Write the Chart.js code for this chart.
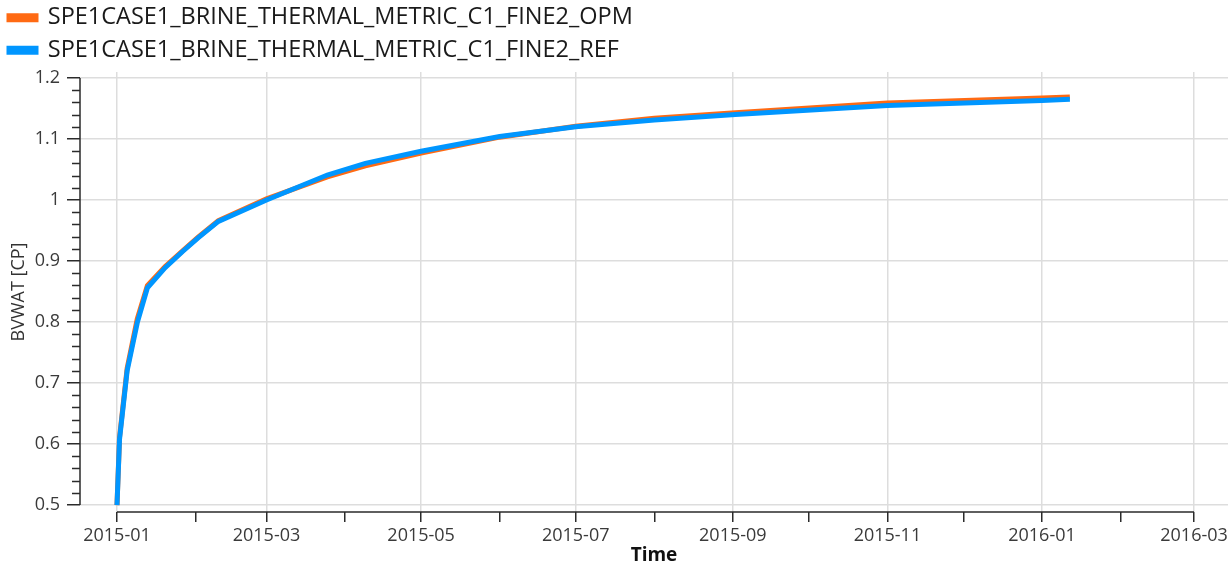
<!DOCTYPE html>
<html>
<head>
<meta charset="utf-8">
<script src="https://cdn.jsdelivr.net/npm/chart.js@4/dist/chart.umd.min.js"></script>
<style>
  html, body { margin: 0; padding: 0; background: #fff; }
  #wrap { width: 1232px; height: 565px; }
</style>
</head>
<body>
<div id="wrap"><canvas id="chart" width="1232" height="565"></canvas></div>
<script>
// BVWAT over time, OPM run vs reference run
const dates = [
  '2015-01-01', '2015-01-02', '2015-01-05', '2015-01-09', '2015-01-13', '2015-01-20',
  '2015-01-27', '2015-02-02', '2015-02-10', '2015-03-01', '2015-03-25', '2015-04-09',
  '2015-05-01', '2015-06-01', '2015-07-01', '2015-08-01', '2015-09-02', '2015-11-01',
  '2016-01-01', '2016-01-12',
];
const opmValues = [
  0.500, 0.611, 0.724, 0.805, 0.860, 0.891,
  0.917, 0.939, 0.966, 1.002, 1.038, 1.056,
  1.077, 1.103, 1.121, 1.134, 1.143, 1.159,
  1.167, 1.169,
];
const refValues = [
  0.500, 0.608, 0.720, 0.799, 0.856, 0.889,
  0.916, 0.938, 0.965, 1.000, 1.041, 1.060,
  1.080, 1.104, 1.120, 1.131, 1.140, 1.155,
  1.163, 1.165,
];
const seriesNames = ['SPE1CASE1_BRINE_THERMAL_METRIC_C1_FINE2_OPM', 'SPE1CASE1_BRINE_THERMAL_METRIC_C1_FINE2_REF'];

// month ticks on the time axis, every second one labelled
const xTickDates = [
  '2015-01-01', '2015-02-01', '2015-03-01', '2015-04-01', '2015-05-01', '2015-06-01',
  '2015-07-01', '2015-08-01', '2015-09-01', '2015-10-01', '2015-11-01', '2015-12-01',
  '2016-01-01', '2016-02-01', '2016-03-01',
];
const xTickLabels = [
  '2015-01', '', '2015-03', '', '2015-05', '', '2015-07', '', '2015-09', '', '2015-11', '',
  '2016-01', '', '2016-03',
];
const yTicks = [0.5, 0.6, 0.7, 0.8, 0.9, 1.0, 1.1, 1.2];
const yTickLabels = ['0.5', '0.6', '0.7', '0.8', '0.9', '1', '1.1', '1.2'];

const FONT = "'Open Sans', 'Noto Sans', sans-serif";
const ORANGE = '#ff6a13';
const BLUE = '#0096ff';
const GRID = '#dddddd';
const AXIS = '#2b2b2b';

const DAY = 86400000;
const T0 = Date.UTC(2015, 0, 1);
function toDay(s) {
  const [y, m, d] = s.split('-').map(Number);
  return (Date.UTC(y, m - 1, d) - T0) / DAY;
}

const xTicks = xTickDates.map(toDay);

// axis lines only span the tick range, plus short minor ticks on y
const axisLines = {
  id: 'axisLines',
  afterDraw(chart) {
    const { ctx, chartArea, scales } = chart;
    const x = scales.x, y = scales.y;
    ctx.save();
    ctx.strokeStyle = AXIS;
    ctx.lineWidth = 1.5;
    ctx.beginPath();
    ctx.moveTo(chartArea.left, y.getPixelForValue(yTicks[0]));
    ctx.lineTo(chartArea.left, y.getPixelForValue(yTicks[yTicks.length - 1]));
    ctx.moveTo(x.getPixelForValue(xTicks[0]), chartArea.bottom);
    ctx.lineTo(x.getPixelForValue(xTicks[xTicks.length - 1]), chartArea.bottom);
    for (let i = 0; i < yTicks.length - 1; i++) {
      for (let k = 1; k < 5; k++) {
        const py = Math.round(y.getPixelForValue(yTicks[i] + (yTicks[i + 1] - yTicks[i]) * k / 5)) + 0.5;
        ctx.moveTo(chartArea.left - 8, py);
        ctx.lineTo(chartArea.left, py);
      }
    }
    ctx.stroke();
    ctx.restore();
  },
};

const toPoints = vals => dates.map((d, i) => ({ x: toDay(d), y: vals[i] }));

new Chart(document.getElementById('chart'), {
  type: 'line',
  data: {
    datasets: [
      {
        label: seriesNames[0],
        data: toPoints(opmValues),
        borderColor: ORANGE,
        backgroundColor: ORANGE,
        borderWidth: 5,
        pointRadius: 0,
        tension: 0,
        order: 2,
      },
      {
        label: seriesNames[1],
        data: toPoints(refValues),
        borderColor: BLUE,
        backgroundColor: BLUE,
        borderWidth: 5,
        pointRadius: 0,
        tension: 0,
        order: 1,
      },
    ],
  },
  options: {
    responsive: false,
    animation: false,
    layout: { padding: { left: 0, right: 4, top: -3, bottom: 0 } },
    plugins: {
      legend: {
        position: 'top',
        align: 'start',
        labels: {
          boxWidth: 27,
          boxHeight: 4,
          padding: 9,
          color: '#1a1a1a',
          font: { family: FONT, size: 23.5 },
          sort: (a, b) => a.datasetIndex - b.datasetIndex,
        },
      },
      tooltip: { enabled: false },
    },
    scales: {
      x: {
        type: 'linear',
        min: -14.6,
        max: 438.4,
        afterBuildTicks: scale => { scale.ticks = xTicks.map(v => ({ value: v })); },
        afterFit: scale => { scale.height = 53; },
        border: { display: false },
        grid: {
          color: ctx => (xTickLabels[ctx.index] ? GRID : 'rgba(0,0,0,0)'),
          lineWidth: 1.5,
          tickColor: AXIS,
          tickLength: 10,
          tickWidth: 1.5,
        },
        ticks: {
          autoSkip: false,
          maxRotation: 0,
          padding: 3,
          color: '#3a3a3a',
          font: { family: FONT, size: 18 },
          callback: (v, i) => xTickLabels[i],
        },
        title: {
          display: true,
          text: 'Time',
          color: '#111',
          font: { family: FONT, size: 19, weight: 'bold', lineHeight: 1 },
          padding: { top: 0, bottom: 0 },
        },
      },
      y: {
        min: 0.4886,
        max: 1.2098,
        afterBuildTicks: scale => { scale.ticks = yTicks.map(v => ({ value: v })); },
        afterFit: scale => { scale.width = 80; },
        border: { display: false },
        grid: {
          color: GRID,
          lineWidth: 1.5,
          tickColor: AXIS,
          tickLength: 13,
          tickWidth: 1.5,
        },
        ticks: {
          padding: 7,
          color: '#3a3a3a',
          font: { family: FONT, size: 18 },
          callback: (v, i) => yTickLabels[i],
        },
        title: {
          display: true,
          text: 'BVWAT [CP]',
          color: '#333',
          font: { family: FONT, size: 18 },
          padding: { top: 8, bottom: 0 },
        },
      },
    },
  },
  plugins: [axisLines],
});
</script>
</body>
</html>
